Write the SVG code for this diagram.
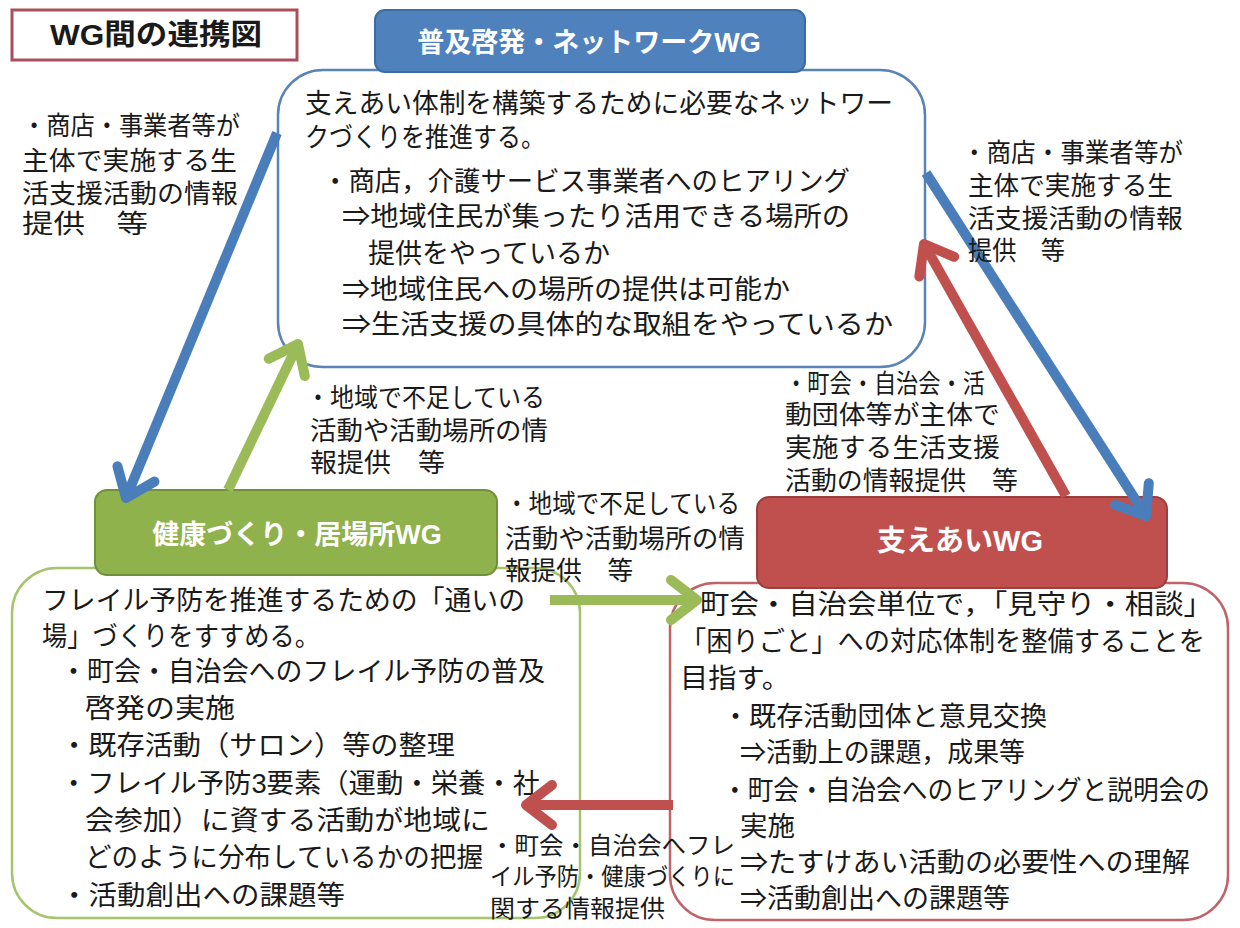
<svg xmlns="http://www.w3.org/2000/svg" width="1240" height="928" viewBox="0 0 1240 928">
<style>
text{font-family:"Liberation Sans","Noto Sans CJK JP",sans-serif;fill:#1a1a1a}
.b{font-size:27px}
.l{font-size:26px}
.s{font-size:24px}
.h{font-size:27px;font-weight:700;fill:#fff;text-anchor:middle}
.box{fill:#fff;stroke-width:2.5}
</style>
<defs>
<marker id="mb" markerUnits="userSpaceOnUse" viewBox="-40 -30 50 60" refX="0" refY="0" markerWidth="50" markerHeight="60" orient="auto" overflow="visible"><path d="M-26,-20 L0,0 L-26,20" fill="none" stroke="#4a7ebb" stroke-width="10" stroke-linecap="round" stroke-linejoin="round"/></marker>
<marker id="mr" markerUnits="userSpaceOnUse" viewBox="-40 -30 50 60" refX="0" refY="0" markerWidth="50" markerHeight="60" orient="auto" overflow="visible"><path d="M-26,-20 L0,0 L-26,20" fill="none" stroke="#c0504d" stroke-width="10" stroke-linecap="round" stroke-linejoin="round"/></marker>
<marker id="mg" markerUnits="userSpaceOnUse" viewBox="-40 -30 50 60" refX="0" refY="0" markerWidth="50" markerHeight="60" orient="auto" overflow="visible"><path d="M-26,-20 L0,0 L-26,20" fill="none" stroke="#9bbb59" stroke-width="10" stroke-linecap="round" stroke-linejoin="round"/></marker>
</defs>
<rect width="1240" height="928" fill="#fff"/>

<g id="title">
<rect x="12" y="10" width="285" height="50" fill="#fff" stroke="#a8505a" stroke-width="3"/>
<text x="50" y="45" textLength="212" lengthAdjust="spacingAndGlyphs" style="font-size:29px;font-weight:700">WG間の連携図</text>
</g>

<g id="network-wg">
<rect class="box" x="278" y="70" width="647" height="297" rx="45" stroke="#5a84b8"/>
<rect x="375" y="10" width="430" height="62" rx="10" fill="#4f81bd" stroke="#3d6ca5" stroke-width="2"/>
<text class="h" x="589" y="52">普及啓発・ネットワークWG</text>
<text class="b">
<tspan x="305" y="113" textLength="588" lengthAdjust="spacingAndGlyphs">支えあい体制を構築するために必要なネットワー</tspan>
<tspan x="305" y="147" textLength="240" lengthAdjust="spacingAndGlyphs">クづくりを推進する。</tspan>
<tspan x="322" y="191" textLength="528" lengthAdjust="spacingAndGlyphs">・商店，介護サービス事業者へのヒアリング</tspan>
<tspan x="342" y="226" textLength="508" lengthAdjust="spacingAndGlyphs">⇒地域住民が集ったり活用できる場所の</tspan>
<tspan x="368" y="263" textLength="242" lengthAdjust="spacingAndGlyphs">提供をやっているか</tspan>
<tspan x="342" y="299" textLength="448" lengthAdjust="spacingAndGlyphs">⇒地域住民への場所の提供は可能か</tspan>
<tspan x="342" y="334" textLength="551" lengthAdjust="spacingAndGlyphs">⇒生活支援の具体的な取組をやっているか</tspan>
</text>
</g>

<g id="kenko-wg">
<rect class="box" x="12" y="568" width="568" height="350" rx="45" stroke="#a6c46c"/>
<rect x="95" y="490" width="402" height="85" rx="12" fill="#8fb24c" stroke="#71903a" stroke-width="2"/>
<text class="h" x="297" y="544">健康づくり・居場所WG</text>
<text class="b">
<tspan x="42" y="610" textLength="483" lengthAdjust="spacingAndGlyphs">フレイル予防を推進するための「通いの</tspan>
<tspan x="42" y="646" textLength="278" lengthAdjust="spacingAndGlyphs">場」づくりをすすめる。</tspan>
<tspan x="60" y="681" textLength="485" lengthAdjust="spacingAndGlyphs">・町会・自治会へのフレイル予防の普及</tspan>
<tspan x="85" y="718" textLength="150" lengthAdjust="spacingAndGlyphs">啓発の実施</tspan>
<tspan x="60" y="755" textLength="395" lengthAdjust="spacingAndGlyphs">・既存活動（サロン）等の整理</tspan>
<tspan x="60" y="793" textLength="480" lengthAdjust="spacingAndGlyphs">・フレイル予防3要素（運動・栄養・社</tspan>
<tspan x="85" y="830" textLength="405" lengthAdjust="spacingAndGlyphs">会参加）に資する活動が地域に</tspan>
<tspan x="85" y="867" textLength="398" lengthAdjust="spacingAndGlyphs">どのように分布しているかの把握</tspan>
<tspan x="60" y="905" textLength="285" lengthAdjust="spacingAndGlyphs">・活動創出への課題等</tspan>
</text>
</g>

<g id="sasaeai-wg">
<rect class="box" x="670" y="583" width="558" height="337" rx="45" stroke="#c0646a"/>
<rect x="757" y="497" width="410" height="91" rx="12" fill="#c0504d" stroke="#9c3e3b" stroke-width="2"/>
<text class="h" x="960" y="551" style="font-size:29px">支えあいWG</text>
<text class="b">
<tspan x="700" y="614" textLength="513" lengthAdjust="spacingAndGlyphs">町会・自治会単位で，「見守り・相談」</tspan>
<tspan x="680" y="651" textLength="525" lengthAdjust="spacingAndGlyphs">「困りごと」への対応体制を整備することを</tspan>
<tspan x="680" y="688" textLength="110" lengthAdjust="spacingAndGlyphs">目指す。</tspan>
<tspan x="722" y="726" textLength="325" lengthAdjust="spacingAndGlyphs">・既存活動団体と意見交換</tspan>
<tspan x="740" y="762" textLength="285" lengthAdjust="spacingAndGlyphs">⇒活動上の課題，成果等</tspan>
<tspan x="722" y="800" textLength="488" lengthAdjust="spacingAndGlyphs">・町会・自治会へのヒアリングと説明会の</tspan>
<tspan x="740" y="836" textLength="55" lengthAdjust="spacingAndGlyphs">実施</tspan>
<tspan x="740" y="872" textLength="450" lengthAdjust="spacingAndGlyphs">⇒たすけあい活動の必要性への理解</tspan>
<tspan x="740" y="908" textLength="270" lengthAdjust="spacingAndGlyphs">⇒活動創出への課題等</tspan>
</text>
</g>

<g id="connectors" fill="none" stroke-width="10">
<line x1="277" y1="133" x2="126" y2="498" stroke="#4a7ebb" marker-end="url(#mb)"/>
<line x1="926" y1="173" x2="1146" y2="516" stroke="#4a7ebb" marker-end="url(#mb)"/>
<line x1="1066" y1="496" x2="924" y2="244" stroke="#c0504d" marker-end="url(#mr)"/>
<line x1="228" y1="490" x2="298" y2="344" stroke="#9bbb59" marker-end="url(#mg)"/>
<line x1="550" y1="600" x2="697" y2="600" stroke="#9bbb59" marker-end="url(#mg)"/>
<line x1="673" y1="805" x2="526" y2="805" stroke="#c0504d" marker-end="url(#mr)"/>
</g>

<g id="labels">
<text class="l">
<tspan x="22" y="135" textLength="218" lengthAdjust="spacingAndGlyphs">・商店・事業者等が</tspan>
<tspan x="22" y="170" textLength="215" lengthAdjust="spacingAndGlyphs">主体で実施する生</tspan>
<tspan x="22" y="203" textLength="216" lengthAdjust="spacingAndGlyphs">活支援活動の情報</tspan>
<tspan x="22" y="233" textLength="126" lengthAdjust="spacingAndGlyphs">提供　等</tspan>
</text>
<text class="l">
<tspan x="962" y="162" textLength="221" lengthAdjust="spacingAndGlyphs">・商店・事業者等が</tspan>
<tspan x="968" y="195" textLength="205" lengthAdjust="spacingAndGlyphs">主体で実施する生</tspan>
<tspan x="968" y="228" textLength="215" lengthAdjust="spacingAndGlyphs">活支援活動の情報</tspan>
<tspan x="968" y="260" textLength="97" lengthAdjust="spacingAndGlyphs">提供　等</tspan>
</text>
<text class="l">
<tspan x="785" y="393" textLength="200" lengthAdjust="spacingAndGlyphs">・町会・自治会・活</tspan>
<tspan x="785" y="424" textLength="215" lengthAdjust="spacingAndGlyphs">動団体等が主体で</tspan>
<tspan x="785" y="457" textLength="215" lengthAdjust="spacingAndGlyphs">実施する生活支援</tspan>
<tspan x="785" y="490" textLength="233" lengthAdjust="spacingAndGlyphs">活動の情報提供　等</tspan>
</text>
<text class="l">
<tspan x="306" y="407" textLength="239" lengthAdjust="spacingAndGlyphs">・地域で不足している</tspan>
<tspan x="310" y="440" textLength="238" lengthAdjust="spacingAndGlyphs">活動や活動場所の情</tspan>
<tspan x="310" y="472" textLength="135" lengthAdjust="spacingAndGlyphs">報提供　等</tspan>
</text>
<text class="l">
<tspan x="505" y="513" textLength="235" lengthAdjust="spacingAndGlyphs">・地域で不足している</tspan>
<tspan x="505" y="548" textLength="240" lengthAdjust="spacingAndGlyphs">活動や活動場所の情</tspan>
<tspan x="505" y="580" textLength="128" lengthAdjust="spacingAndGlyphs">報提供　等</tspan>
</text>
<text class="s">
<tspan x="490" y="854" textLength="245" lengthAdjust="spacingAndGlyphs">・町会・自治会へフレ</tspan>
<tspan x="490" y="885" textLength="245" lengthAdjust="spacingAndGlyphs">イル予防・健康づくりに</tspan>
<tspan x="490" y="917" textLength="175" lengthAdjust="spacingAndGlyphs">関する情報提供</tspan>
</text>
</g>
</svg>
